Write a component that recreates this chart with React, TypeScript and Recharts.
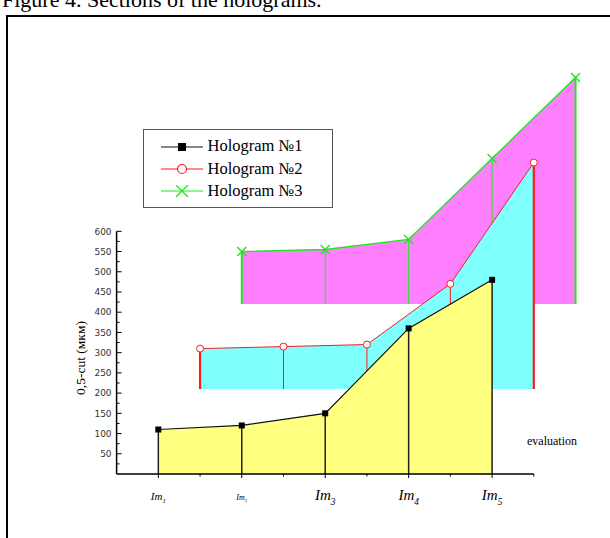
import React from 'react';
import { ComposedChart, Area, Line, XAxis, YAxis, ReferenceLine, Legend } from 'recharts';

// ---------- data ----------
const categorySubscripts = ['1', '2', '3', '4', '5'];
const holo1X = [1, 2, 3, 4, 5];
const holo1Values = [110, 120, 150, 360, 480];
const holo1Base = 0;
const holo2X = [1.5, 2.5, 3.5, 4.5, 5.5];
const holo2Values = [310, 315, 320, 470, 770];
const holo2Base = 210;
const holo3X = [2, 3, 4, 5, 6];
const holo3Values = [550, 555, 580, 780, 980];
const holo3Base = 420;
const seriesNames = ['Hologram №1', 'Hologram №2', 'Hologram №3'];
const xTicks = [1, 1.5, 2, 2.5, 3, 3.5, 4, 4.5, 5, 5.5];
const yTicks = [25, 50, 75, 100, 125, 150, 175, 200, 225, 250, 275, 300, 325, 350, 375, 400, 425, 450, 475, 500, 525, 550, 575, 600];
const yAxisTitle = '0,5-cut (мкм)';
const xAxisTitle = 'evaluation';
const figureTitle = 'Figure 4. Sections of the holograms.';

// ---------- styles ----------
const xLabelFontSizes = [11, 8, 15, 15, 15];
const COLORS = {
  yellow: '#FFFF80',
  cyan: '#80FFFF',
  magenta: '#FF80FF',
  black: '#111',
  red: '#FF1A1A',
  green: '#22E622',
};

// ---------- tables built from data ----------
const rangeRows = (xs: number[], vals: number[], base: number) =>
  xs.map((x, i) => ({ x, lo: base, hi: vals[i] }));

const dropRows = (xs: number[], vals: number[], base: number, idx: number[]) => {
  const out: { x: number; y: number | null }[] = [];
  idx.forEach((i) => {
    out.push({ x: xs[i], y: base }, { x: xs[i], y: vals[i] }, { x: xs[i], y: null });
  });
  return out;
};

const s1 = rangeRows(holo1X, holo1Values, holo1Base);
const s2 = rangeRows(holo2X, holo2Values, holo2Base);
const s3 = rangeRows(holo3X, holo3Values, holo3Base);
const allIdx = holo1X.map((_, i) => i);
const edgeIdx = [0, holo1X.length - 1];
const midIdx = allIdx.slice(1, -1);

const d1 = dropRows(holo1X, holo1Values, holo1Base, allIdx);
const d2mid = dropRows(holo2X, holo2Values, holo2Base, midIdx);
const d2edge = dropRows(holo2X, holo2Values, holo2Base, edgeIdx);
const d3mid = dropRows(holo3X, holo3Values, holo3Base, midIdx);
const d3edge = dropRows(holo3X, holo3Values, holo3Base, edgeIdx);

const rangeKey = (d: any) => [d.lo, d.hi];

// ---------- markers ----------
const SquareDot = (p: any) =>
  p.cx == null || p.cy == null ? (
    <g key={`sq-${p.index}`} />
  ) : (
    <rect key={`sq-${p.index}`} x={p.cx - 3} y={p.cy - 3} width={6} height={6} fill="#000" />
  );
const CircleDot = (p: any) =>
  p.cx == null || p.cy == null ? (
    <g key={`ci-${p.index}`} />
  ) : (
    <circle key={`ci-${p.index}`} cx={p.cx} cy={p.cy} r={3.5} fill="#fff" stroke={COLORS.red} strokeWidth={1} />
  );
const CrossDot = (p: any) =>
  p.cx == null || p.cy == null ? (
    <g key={`cr-${p.index}`} />
  ) : (
    <path
      key={`cr-${p.index}`}
      d={`M${p.cx - 4.5},${p.cy - 4.5}L${p.cx + 4.5},${p.cy + 4.5}M${p.cx + 4.5},${p.cy - 4.5}L${p.cx - 4.5},${p.cy + 4.5}`}
      stroke={COLORS.green}
      strokeWidth={1.4}
      fill="none"
    />
  );

// ---------- ticks ----------
const XTick = (p: any) => {
  const v = p.payload.value;
  const major = Number.isInteger(v);
  const i = v - 1;
  const fs = major ? xLabelFontSizes[i] : 10;
  return (
    <g>
      <line x1={p.x} y1={p.y} x2={p.x} y2={p.y + (major ? 4 : 2.5)} stroke="#000" strokeWidth={1} />
      {major && (
        <text
          x={p.x}
          y={p.y + 26}
          textAnchor="middle"
          fontFamily="'Liberation Serif', serif"
          fontStyle="italic"
          fontSize={fs}
          fill="#000"
        >
          Im
          <tspan fontSize={fs * 0.62} dy={fs * 0.3}>
            {categorySubscripts[i]}
          </tspan>
        </text>
      )}
    </g>
  );
};

const YTick = (p: any) => {
  const v = p.payload.value;
  const major = v % 50 === 0;
  return (
    <g>
      <line x1={p.x} x2={p.x + (major ? 5 : 3)} y1={p.y} y2={p.y} stroke="#000" strokeWidth={1} />
      {major && (
        <text
          x={p.x - 5}
          y={p.y}
          dy="0.36em"
          textAnchor="end"
          fontFamily="'DejaVu Sans', sans-serif"
          fontSize={9}
          fill="#333"
        >
          {v}
        </text>
      )}
    </g>
  );
};

// ---------- legend ----------
const legendMarkers = ['square', 'circle', 'cross'];
const legendColors = [COLORS.black, COLORS.red, COLORS.green];

const LegendBox = () => (
  <div
    style={{
      width: 190,
      height: 79,
      boxSizing: 'border-box',
      border: '1px solid #555',
      background: '#fff',
      paddingTop: 5.5,
      paddingLeft: 17,
    }}
  >
    {seriesNames.map((name, i) => (
      <div key={name} style={{ display: 'flex', alignItems: 'center', height: 22.3 }}>
        <svg width={42} height={12} style={{ display: 'block' }}>
          <line x1={0} x2={42} y1={6} y2={6} stroke={legendColors[i]} strokeWidth={1.2} />
          {legendMarkers[i] === 'square' && <rect x={17} y={2} width={8} height={8} fill="#000" />}
          {legendMarkers[i] === 'circle' && (
            <circle cx={21} cy={6} r={4.5} fill="#fff" stroke={COLORS.red} strokeWidth={1.2} />
          )}
          {legendMarkers[i] === 'cross' && (
            <path d="M15,0L27,12M27,0L15,12" stroke={COLORS.green} strokeWidth={1.4} />
          )}
        </svg>
        <span
          style={{
            fontFamily: "'Liberation Serif', serif",
            fontSize: 16.5,
            marginLeft: 5,
            color: '#000',
            whiteSpace: 'nowrap',
            lineHeight: 1,
          }}
        >
          {name}
        </span>
      </div>
    ))}
  </div>
);

export default function App() {
  return (
    <div
      style={{
        position: 'absolute',
        left: 0,
        top: 0,
        width: 610,
        height: 538,
        overflow: 'hidden',
        background: '#fff',
      }}
    >
      <div
        style={{
          position: 'absolute',
          left: 2,
          top: -13,
          fontFamily: "'Liberation Serif', serif",
          fontSize: 22,
          whiteSpace: 'nowrap',
          color: '#000',
        }}
      >
        {figureTitle}
      </div>
      <div
        style={{
          position: 'absolute',
          left: 5.5,
          top: 15,
          width: 640,
          height: 600,
          borderTop: '2px solid #000',
          borderLeft: '2px solid #000',
        }}
      />
      <div style={{ position: 'absolute', left: 0, top: 0 }}>
        <ComposedChart
          width={610}
          height={538}
          margin={{ top: 69.5, right: 13.6, bottom: 24, left: 56.6 }}
        >
          <XAxis
            dataKey="x"
            type="number"
            domain={[0.5, 6.25]}
            allowDataOverflow
            ticks={xTicks}
            interval={0}
            height={40}
            axisLine={false}
            tickLine={false}
            tickSize={0}
            tickMargin={0}
            tick={<XTick />}
          />
          <YAxis
            type="number"
            domain={[0, 1000]}
            allowDataOverflow
            ticks={yTicks}
            interval={0}
            width={60}
            axisLine={false}
            tickLine={false}
            tickSize={0}
            tickMargin={0}
            tick={<YTick />}
          />

          {/* Hologram 3 */}
          <Area
            data={s3}
            dataKey={rangeKey}
            stroke="none"
            fill={COLORS.magenta}
            fillOpacity={1}
            isAnimationActive={false}
            legendType="none"
            activeDot={false}
            zIndex={101}
          />
          <Line data={d3mid} dataKey="y" stroke={COLORS.green} strokeWidth={1} dot={false} connectNulls={false} isAnimationActive={false} legendType="none" activeDot={false} zIndex={102} />
          <Line data={d3edge} dataKey="y" stroke={COLORS.green} strokeWidth={2} dot={false} connectNulls={false} isAnimationActive={false} legendType="none" activeDot={false} zIndex={102} />
          <Line data={s3} dataKey="hi" name={seriesNames[2]} stroke={COLORS.green} strokeWidth={1.4} dot={CrossDot} isAnimationActive={false} activeDot={false} zIndex={103} />

          {/* Hologram 2 */}
          <Area
            data={s2}
            dataKey={rangeKey}
            stroke="none"
            fill={COLORS.cyan}
            fillOpacity={1}
            isAnimationActive={false}
            legendType="none"
            activeDot={false}
            zIndex={104}
          />
          <Line data={d2mid} dataKey="y" stroke={COLORS.red} strokeWidth={1} dot={false} connectNulls={false} isAnimationActive={false} legendType="none" activeDot={false} zIndex={105} />
          <Line data={d2edge} dataKey="y" stroke={COLORS.red} strokeWidth={2.2} dot={false} connectNulls={false} isAnimationActive={false} legendType="none" activeDot={false} zIndex={105} />
          <Line data={s2} dataKey="hi" name={seriesNames[1]} stroke={COLORS.red} strokeWidth={1} dot={CircleDot} isAnimationActive={false} activeDot={false} zIndex={106} />

          {/* Hologram 1 */}
          <Area
            data={s1}
            dataKey={rangeKey}
            stroke="none"
            fill={COLORS.yellow}
            fillOpacity={1}
            isAnimationActive={false}
            legendType="none"
            activeDot={false}
            zIndex={107}
          />
          <Line data={d1} dataKey="y" stroke="#222" strokeWidth={1.5} dot={false} connectNulls={false} isAnimationActive={false} legendType="none" activeDot={false} zIndex={108} />
          <Line data={s1} dataKey="hi" name={seriesNames[0]} stroke={COLORS.black} strokeWidth={1.2} dot={SquareDot} isAnimationActive={false} activeDot={false} zIndex={109} />

          {/* axis lines */}
          <ReferenceLine segment={[{ x: 0.5, y: 0 }, { x: 0.5, y: 600 }]} stroke="#000" strokeWidth={1.5} ifOverflow="visible" zIndex={110} />
          <ReferenceLine segment={[{ x: 0.5, y: 0 }, { x: 5.5, y: 0 }]} stroke="#000" strokeWidth={1.5} ifOverflow="visible" zIndex={110} />

          <Legend
            layout="vertical"
            align="center"
            verticalAlign="middle"
            wrapperStyle={{ left: 142.5, top: 129, width: 190, height: 79, right: 'auto', bottom: 'auto' }}
            content={() => <LegendBox />}
          />
        </ComposedChart>
      </div>
      <div
        style={{
          position: 'absolute',
          left: 81,
          top: 358,
          transform: 'translate(-50%, -50%) rotate(-90deg)',
          fontFamily: "'Liberation Serif', serif",
          fontSize: 13.5,
          whiteSpace: 'nowrap',
          color: '#000',
        }}
      >
        {yAxisTitle}
      </div>
      <div
        style={{
          position: 'absolute',
          left: 527,
          top: 434,
          fontFamily: "'Liberation Serif', serif",
          fontSize: 12,
          whiteSpace: 'nowrap',
          color: '#000',
        }}
      >
        {xAxisTitle}
      </div>
    </div>
  );
}
